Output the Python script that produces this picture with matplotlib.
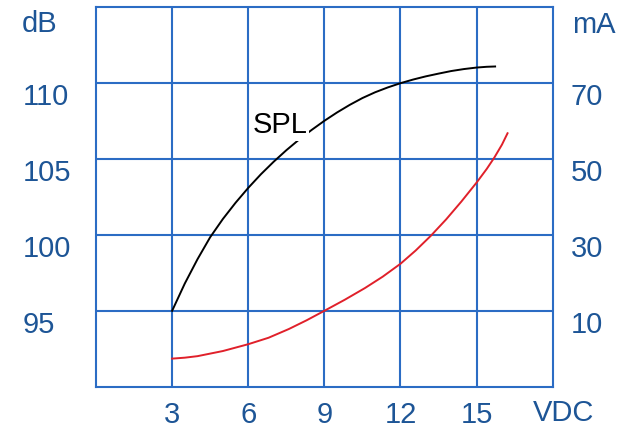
import matplotlib.pyplot as plt

plt.rcParams['font.family'] = ['Liberation Sans', 'DejaVu Sans']

# SPL 曲线 (VDC, dB)
spl_v = [3.0, 3.5, 4.0, 4.5, 5.0, 5.5, 6.0, 6.5, 7.0, 7.5, 8.0, 8.5, 9.0, 9.5,
         10.0, 10.5, 11.0, 11.5, 12.0, 12.5, 13.0, 13.5, 14.0, 14.5, 15.0, 15.4, 15.73]
spl_db = [95.0, 96.8, 98.4, 99.85, 101.05, 102.12, 103.1, 104.0, 104.82, 105.58,
          106.28, 106.92, 107.52, 108.07, 108.57, 109.02, 109.4, 109.72, 110.0,
          110.24, 110.45, 110.63, 110.8, 110.93, 111.03, 111.08, 111.1]

# 电流曲线 (VDC, mA)
cur_v = [3.0, 3.5, 4.0, 5.0, 6.0, 6.8, 7.6, 8.3, 9.0, 9.8, 10.6, 11.3, 12.0,
         12.6, 13.2, 13.8, 14.4, 15.0, 15.4, 15.7, 16.0, 16.22]
cur_ma = [-2.6, -2.35, -1.95, -0.6, 1.2, 2.9, 5.2, 7.5, 10.0, 12.9, 16.0, 19.0,
          22.4, 25.9, 29.8, 34.1, 38.8, 43.8, 47.4, 50.4, 53.8, 56.8]

x_ticks = [3, 6, 9, 12, 15]
db_ticks = [95, 100, 105, 110]
ma_ticks = [10, 30, 50, 70]

text_c = '#1d5596'
grid_c = '#2b6cc4'
fs = 21

fig = plt.figure(figsize=(6.26, 4.33), dpi=100)
ax = fig.add_axes([96 / 626, 1 - 386.7 / 433, 456.7 / 626, 379.4 / 433])
ax.set_xlim(0, 18)
ax.set_ylim(90, 115)
ax.set_xticks(x_ticks)
ax.set_yticks(db_ticks)
ax.grid(True, color=grid_c, linewidth=1.5)
for s in ax.spines.values():
    s.set_color(grid_c)
    s.set_linewidth(1.5)
ax.tick_params(length=0, labelsize=fs, labelcolor=text_c)
ax.tick_params(axis='x', pad=10)
ax.tick_params(axis='y', pad=53)
for lab in ax.get_yticklabels():
    lab.set_ha('left')
    lab.set_va('top')

ax.plot(spl_v, spl_db, color='black', linewidth=1.4, zorder=3)
ax.text(7.25, 107.24, 'SPL', fontsize=fs, ha='center', va='center', zorder=4,
        bbox=dict(facecolor='white', edgecolor='none', pad=1))

ax2 = ax.twinx()
ax2.set_ylim(-10, 90)
ax2.set_yticks(ma_ticks)
ax2.tick_params(length=0, labelsize=fs, labelcolor=text_c, pad=13)
for lab in ax2.get_yticklabels():
    lab.set_va('top')
for s in ax2.spines.values():
    s.set_visible(False)
ax2.plot(cur_v, cur_ma, color='#e0202a', linewidth=1.4)

fig.text(22 / 626, 1 - 24 / 433, 'dB', fontsize=fs, color=text_c, ha='left', va='center')
fig.text(572 / 626, 1 - 25 / 433, 'mA', fontsize=fs, color=text_c, ha='left', va='center')
fig.text(564 / 626, 1 - 413 / 433, 'VDC', fontsize=fs, color=text_c, ha='center', va='center')

fig.savefig('out.png')
